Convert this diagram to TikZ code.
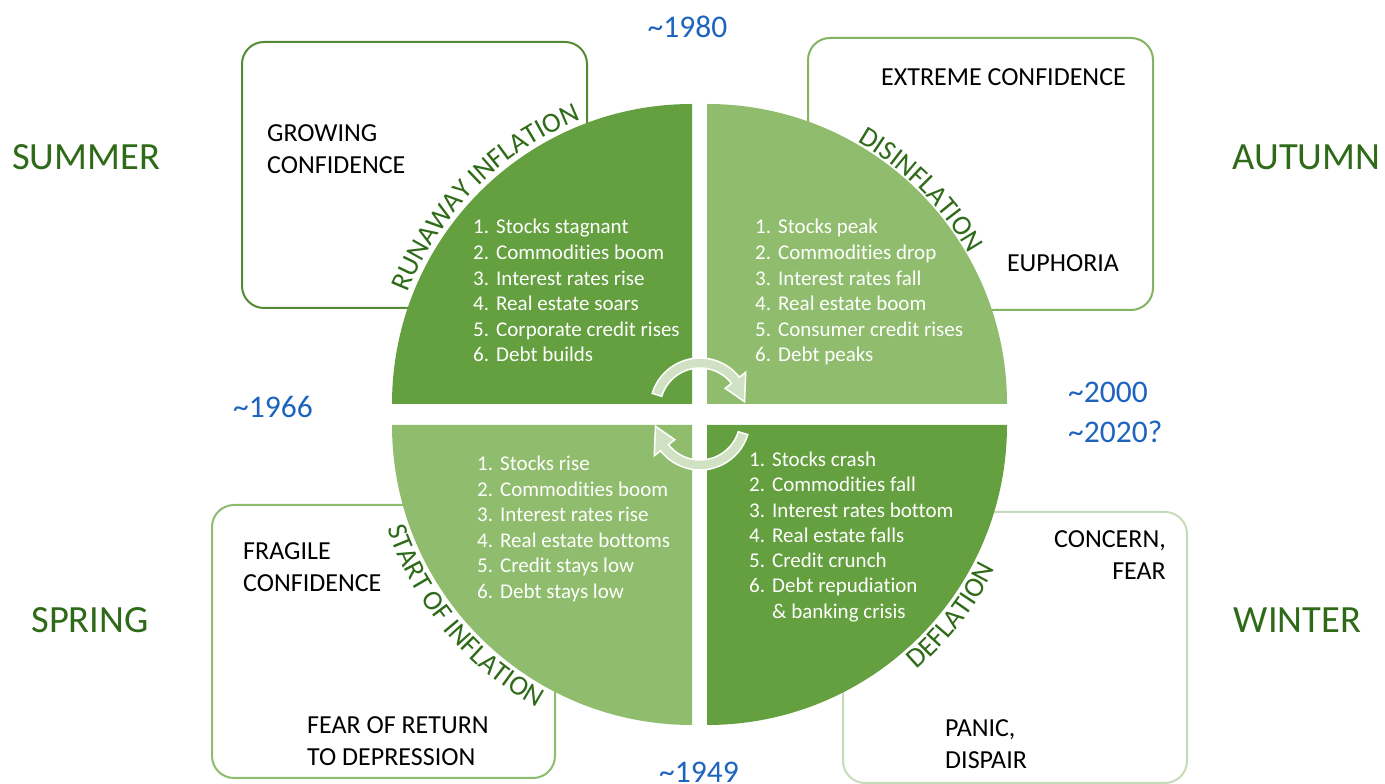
\documentclass[tikz,border=0pt]{standalone}
\usepackage{fontspec}
\setmainfont{Carlito}[Ligatures=NoCommon]
\usetikzlibrary{decorations.text}

\definecolor{quaddark}{HTML}{64A03F}
\definecolor{quadlight}{HTML}{8FBD6D}
\definecolor{seasongreen}{HTML}{2E6A18}
\definecolor{yearblue}{HTML}{1D64BF}
\definecolor{cyclefill}{HTML}{D0E2C3}
\definecolor{edgesummer}{HTML}{558B36}
\definecolor{edgeautumn}{HTML}{82B462}
\definecolor{edgespring}{HTML}{8CBC6E}
\definecolor{edgewinter}{HTML}{C6DCB8}
\newcommand{\phasefont}{\fontsize{28}{30}\selectfont}

\begin{document}
\begin{tikzpicture}[x=1pt,y=1pt,
  moodbox/.style={draw, line width=2pt, rounded corners=22pt, inner sep=0pt},
  mood/.style={font=\fontsize{26}{31.7}\selectfont, inner sep=0pt},
  season/.style={text=seasongreen, font=\fontsize{38.5}{40}\selectfont, inner sep=0pt},
  year/.style={text=yearblue, font=\fontsize{31.5}{40}\selectfont, inner sep=0pt, align=left},
  listtext/.style={text=white, font=\fontsize{21}{25}\selectfont, inner sep=0pt, anchor=base west},
  cyclearrow/.style={fill=cyclefill, draw=white, line width=1.5pt},
  phase/.style={decorate, decoration={text along path, text align=center, text color=seasongreen, text={|\phasefont|#1}}}]
\clip (0,0) rectangle (1385,784);
\fill[white] (0,0) rectangle (1385,784);

\node[moodbox, draw=edgesummer, minimum width=345pt, minimum height=266pt] (summerbox) at (414.5,609) {};
\node[moodbox, draw=edgeautumn, minimum width=345pt, minimum height=272pt] (autumnbox) at (980.5,610) {};
\node[moodbox, draw=edgespring, minimum width=343pt, minimum height=273pt] (springbox) at (383.5,142.5) {};
\node[moodbox, draw=edgewinter, minimum width=344pt, minimum height=271pt] (winterbox) at (1015,136.5) {};

\node[mood, align=left, anchor=west] (growing) at (267,635) {GROWING\\CONFIDENCE};
\node[mood] (extreme) at (1003.5,707) {EXTREME CONFIDENCE};
\node[mood] (euphoria) at (1063,521) {EUPHORIA};
\node[mood, align=left, anchor=west] (fragile) at (243,217) {FRAGILE\\CONFIDENCE};
\node[mood, align=left, anchor=west] (fearreturn) at (307,43) {FEAR OF RETURN\\TO DEPRESSION};
\node[mood, align=right, anchor=east] (concern) at (1166,229) {CONCERN,\\FEAR};
\node[mood, align=left, anchor=west] (panic) at (945,40) {PANIC,\\DISPAIR};

\fill[quaddark] (692,380) -- (692,680) arc[start angle=90, end angle=180, radius=300pt] -- cycle;
\fill[quadlight] (707,380) -- (1007,380) arc[start angle=0, end angle=90, radius=300pt] -- cycle;
\fill[quadlight] (692,359) -- (392,359) arc[start angle=180, end angle=270, radius=300pt] -- cycle;
\fill[quaddark] (707,359) -- (707,59) arc[start angle=270, end angle=360, radius=300pt] -- cycle;

\path[phase={RUNAWAY INFLATION}] ([shift={(692,380)}]170:305pt) arc[start angle=170, end angle=100, radius=305pt];
\path[phase={DISINFLATION}] ([shift={(707,380)}]80:302pt) arc[start angle=80, end angle=10, radius=302pt];
\path[phase={START OF INFLATION}] ([shift={(692,359)}]185:322pt) arc[start angle=185, end angle=255, radius=322pt];
\path[phase={DEFLATION}] ([shift={(707,359)}]-74:322pt) arc[start angle=-74, end angle=-2, radius=322pt];

\foreach \txt [count=\i] in {Stocks stagnant, Commodities boom, Interest rates rise, Real estate soars, Corporate credit rises, Debt builds}
  \node[listtext] (summer\i) at (473,{550-25.6*(\i-1)}) {\makebox[23pt][l]{\i.}\txt};
\foreach \txt [count=\i] in {Stocks peak, Commodities drop, Interest rates fall, Real estate boom, Consumer credit rises, Debt peaks}
  \node[listtext] (autumn\i) at (755,{550-25.6*(\i-1)}) {\makebox[23pt][l]{\i.}\txt};
\foreach \txt [count=\i] in {Stocks rise, Commodities boom, Interest rates rise, Real estate bottoms, Credit stays low, Debt stays low}
  \node[listtext] (spring\i) at (477,{313.5-25.6*(\i-1)}) {\makebox[23pt][l]{\i.}\txt};
\foreach \txt [count=\i] in {Stocks crash, Commodities fall, Interest rates bottom, Real estate falls, Credit crunch, Debt repudiation}
  \node[listtext] (winter\i) at (749,{317.5-25.3*(\i-1)}) {\makebox[23pt][l]{\i.}\txt};
\node[listtext] (winter7) at (772,{317.5-25.3*6}) {\& banking crisis};

\begin{scope}[shift={(700,376)}]
  \filldraw[cyclearrow] (163:50pt) arc[start angle=163, end angle=38, radius=50pt] -- (38:58pt) -- (8:45pt) -- (38:32pt) -- (38:40pt) arc[start angle=38, end angle=163, radius=40pt] -- cycle;
\end{scope}
\begin{scope}[shift={(700,364)}]
  \filldraw[cyclearrow] (-17:50pt) arc[start angle=-17, end angle=-142, radius=50pt] -- (-142:58pt) -- (-172:45pt) -- (-142:32pt) -- (-142:40pt) arc[start angle=-142, end angle=-17, radius=40pt] -- cycle;
\end{scope}

\node[season] (summer) at (86,627) {SUMMER};
\node[season] (autumn) at (1306.5,627) {AUTUMN};
\node[season] (spring) at (90,164) {SPRING};
\node[season] (winter) at (1297.5,164) {WINTER};

\node[year] (y1980) at (687.5,757) {\textasciitilde1980};
\node[year] (y1966) at (273,377) {\textasciitilde1966};
\node[year, anchor=west] (y2000) at (1068,372) {\textasciitilde2000\\\textasciitilde2020?};
\node[year] (y1949) at (699,12) {\textasciitilde1949};
\end{tikzpicture}
\end{document}
